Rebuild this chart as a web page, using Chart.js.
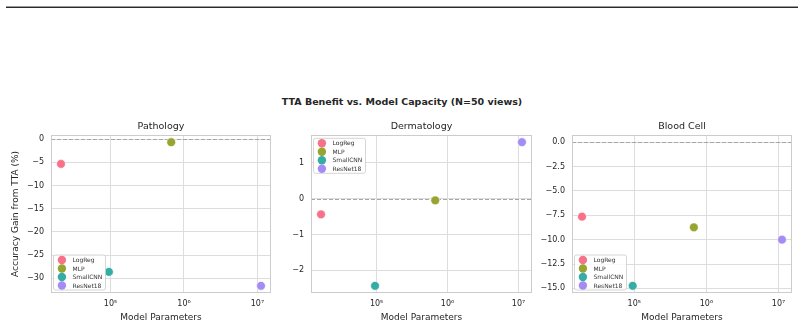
<!DOCTYPE html>
<html>
<head>
<meta charset="utf-8">
<script src="https://cdn.jsdelivr.net/npm/chart.js@4"></script>
<style>
  body { margin: 0; background: #fff; width: 804px; height: 327px; position: relative; overflow: hidden; font-family: 'DejaVu Sans', sans-serif; }
  #rule { position: absolute; left: 6px; top: 6px; width: 792px; height: 0; border-top: 1px solid #9a9a9a; border-bottom: 1px solid #2b2b2b; }
  #suptitle { position: absolute; left: 0; top: 96px; width: 804px; line-height: 11px; text-align: center; font-weight: bold; font-size: 9.5px; color: #262626; }
  canvas { position: absolute; top: 115px; }
</style>
</head>
<body>
<div id="rule"></div>
<div id="suptitle">TTA Benefit vs. Model Capacity (N=50 views)</div>
<canvas id="c0" width="280" height="212" style="left:0px"></canvas>
<canvas id="c1" width="270" height="212" style="left:270px"></canvas>
<canvas id="c2" width="274" height="212" style="left:530px"></canvas>
<script>
const models = ['LogReg', 'MLP', 'SmallCNN', 'ResNet18'];
const colors = ['#f77189', '#97a431', '#36ada4', '#a48cf4'];
const datasetNames = ['Pathology', 'Dermatology', 'Blood Cell'];

// parameter counts (x) per dataset
const paramsPathology = [21177, 670000, 95000, 11180000];
const paramsDermatology = [16471, 670000, 95000, 11180000];
const paramsBlood = [18824, 670000, 95000, 11180000];

// accuracy gain from TTA (%) (y)
const gainPathology = [-5.33, -0.65, -28.6, -31.6];
const gainDermatology = [-0.44, -0.05, -2.43, 1.57];
const gainBlood = [-7.64, -8.73, -14.73, -10.0];

const xTicks = [1e5, 1e6, 1e7];
const yTicksPathology = [0, -5, -10, -15, -20, -25, -30];
const yTicksDermatology = [1, 0, -1, -2];
const yTicksBlood = [0, -2.5, -5, -7.5, -10, -12.5, -15];

Chart.defaults.font.family = "'DejaVu Sans', sans-serif";
Chart.defaults.color = '#262626';

const sup = { 5: '\u2075', 6: '\u2076', 7: '\u2077' };
const textColor = '#262626';

const panelDecor = {
  id: 'panelDecor',
  beforeDatasetsDraw(chart) {
    const { ctx, chartArea: a, scales: { y } } = chart;
    const y0 = Math.round(y.getPixelForValue(0)) + 0.5;
    ctx.save();
    ctx.strokeStyle = '#a6a6a6';
    ctx.lineWidth = 1;
    ctx.setLineDash([4, 2]);
    ctx.beginPath();
    ctx.moveTo(a.left, y0);
    ctx.lineTo(a.right, y0);
    ctx.stroke();
    ctx.setLineDash([]);
    ctx.strokeStyle = '#cccccc';
    ctx.strokeRect(a.left + 0.5, a.top + 0.5, a.width - 1, a.height - 1);
    ctx.restore();
  },
  afterDraw(chart, args, opts) {
    const { ctx, chartArea: a } = chart;
    ctx.save();
    // subplot title
    ctx.fillStyle = textColor;
    ctx.font = "9.5px 'DejaVu Sans'";
    ctx.textAlign = 'center';
    ctx.textBaseline = 'middle';
    ctx.fillText(opts.title, (a.left + a.right) / 2, 12);

    // legend box
    const bw = 52, bh = 35, rowH = 8.5;
    const bx = a.left + 2.5;
    const by = opts.legend === 'upper' ? a.top + 3.3 : a.bottom - 3 - bh;
    ctx.fillStyle = 'rgba(255,255,255,0.8)';
    ctx.strokeStyle = '#cccccc';
    ctx.lineWidth = 0.8;
    ctx.beginPath();
    ctx.roundRect(bx, by, bw, bh, 2);
    ctx.fill();
    ctx.stroke();
    ctx.font = "6px 'DejaVu Sans'";
    ctx.textAlign = 'left';
    chart.data.datasets.forEach((ds, i) => {
      const cy = by + 5 + i * rowH;
      ctx.fillStyle = ds.backgroundColor;
      ctx.beginPath();
      ctx.arc(bx + 8.4, cy, 4.2, 0, Math.PI * 2);
      ctx.fill();
      ctx.fillStyle = '#333333';
      ctx.fillText(ds.label, bx + 19, cy + 0.5);
    });
    ctx.restore();
  }
};

const panels = [
  { id: 'c0', name: datasetNames[0], params: paramsPathology, gain: gainPathology, yTicks: yTicksPathology,
    yMin: -33.15, yMax: 0.9, decimals: 0, axisW: 51, padRight: 9, legend: 'lower', yTitle: true },
  { id: 'c1', name: datasetNames[1], params: paramsDermatology, gain: gainDermatology, yTicks: yTicksDermatology,
    yMin: -2.63, yMax: 1.77, decimals: 0, axisW: 41, padRight: 8, legend: 'upper', yTitle: false },
  { id: 'c2', name: datasetNames[2], params: paramsBlood, gain: gainBlood, yTicks: yTicksBlood,
    yMin: -15.47, yMax: 0.74, decimals: 1, axisW: 42, padRight: 12, legend: 'lower', yTitle: false }
];

panels.forEach(p => {
  const lo = Math.log10(Math.min(...p.params));
  const hi = Math.log10(Math.max(...p.params));
  const m = (hi - lo) * 0.05;

  new Chart(document.getElementById(p.id), {
    type: 'scatter',
    data: {
      datasets: models.map((name, i) => ({
        label: name,
        data: [{ x: p.params[i], y: p.gain[i] }],
        backgroundColor: colors[i],
        borderColor: '#ffffff',
        borderWidth: 0.6,
        pointRadius: 4.4,
        pointHoverRadius: 4.4
      }))
    },
    options: {
      responsive: false,
      animation: false,
      events: [],
      layout: { padding: { top: 20, right: p.padRight, left: 0, bottom: 0 } },
      plugins: {
        legend: { display: false },
        tooltip: { enabled: false },
        panelDecor: { title: p.name, legend: p.legend }
      },
      scales: {
        x: {
          type: 'logarithmic',
          min: Math.pow(10, lo - m),
          max: Math.pow(10, hi + m),
          afterBuildTicks: s => { s.ticks = xTicks.map(v => ({ value: v })); },
          afterFit: s => { s.height = 34; },
          ticks: {
            callback: v => '10' + sup[Math.round(Math.log10(v))],
            font: { size: 8 },
            color: textColor,
            padding: 6,
            maxRotation: 0,
            autoSkip: false
          },
          grid: { color: '#dddddd', drawTicks: false },
          border: { display: false },
          title: { display: true, text: 'Model Parameters', font: { size: 9 }, color: textColor, padding: { top: 0, bottom: 4 } }
        },
        y: {
          min: p.yMin,
          max: p.yMax,
          afterBuildTicks: s => { s.ticks = p.yTicks.map(v => ({ value: v })); },
          afterFit: s => { s.width = p.axisW; },
          ticks: {
            callback: v => (p.decimals ? v.toFixed(p.decimals) : String(v)).replace('-', '\u2212'),
            font: { size: 8 },
            color: textColor,
            padding: 7,
            autoSkip: false
          },
          grid: { color: '#dddddd', drawTicks: false },
          border: { display: false },
          title: { display: p.yTitle, text: 'Accuracy Gain from TTA (%)', font: { size: 9 }, color: textColor, padding: { top: 10, bottom: 0 } }
        }
      }
    },
    plugins: [panelDecor]
  });
});
</script>
</body>
</html>
